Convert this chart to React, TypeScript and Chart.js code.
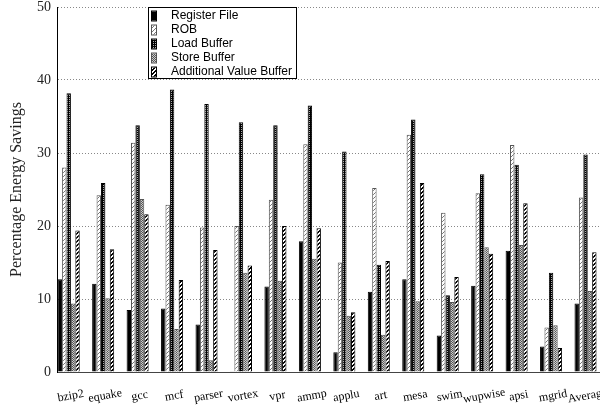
import React, { useEffect, useRef } from "react";
import { Chart, registerables } from "chart.js";

Chart.register(...registerables);

const categories = ["bzip2", "equake", "gcc", "mcf", "parser", "vortex", "vpr", "ammp", "applu", "art", "mesa", "swim", "wupwise", "apsi", "mgrid", "Average"];
const seriesNames = ["Register File", "ROB", "Load Buffer", "Store Buffer", "Additional Value Buffer"];
const registerFile = [12.7, 12.1, 8.5, 8.7, 6.5, 0.1, 11.7, 17.9, 2.7, 11.0, 12.7, 5.0, 11.8, 16.6, 3.5, 9.4];
const rob = [28.0, 24.2, 31.4, 22.9, 19.8, 20.0, 23.6, 31.2, 15.0, 25.2, 32.5, 21.8, 24.5, 31.1, 6.1, 23.9];
const loadBuffer = [38.2, 25.9, 33.8, 38.7, 36.7, 34.2, 33.8, 36.5, 30.2, 14.7, 34.6, 10.5, 27.1, 28.4, 13.6, 29.8];
const storeBuffer = [9.4, 10.1, 23.7, 5.9, 1.6, 13.6, 12.5, 15.5, 7.7, 5.1, 9.7, 9.6, 17.1, 17.4, 6.4, 11.1];
const addValueBuffer = [19.4, 16.8, 21.6, 12.6, 16.7, 14.6, 20.0, 19.7, 8.2, 15.2, 25.9, 13.0, 16.2, 23.1, 3.3, 16.4];
const yTicks = [0, 10, 20, 30, 40, 50];

function makePattern(ctx: CanvasRenderingContext2D, w: number, h: number, draw: (g: CanvasRenderingContext2D) => void) {
  const c = document.createElement("canvas");
  c.width = w;
  c.height = h;
  const g = c.getContext("2d")!;
  draw(g);
  return ctx.createPattern(c, "repeat")!;
}

export default function App() {
  const ref = useRef<HTMLCanvasElement>(null);
  useEffect(() => {
    const canvas = ref.current!;
    const ctx = canvas.getContext("2d")!;
    const solid = "#000";
    const robPat = makePattern(ctx, 4, 4, (g) => {
      g.fillStyle = "#fff";
      g.fillRect(0, 0, 4, 4);
      g.fillStyle = "#777";
      for (let i = 0; i < 4; i++) g.fillRect(i, 3 - i, 1, 1);
    });
    const loadPat = makePattern(ctx, 2, 2, (g) => {
      g.fillStyle = "#000";
      g.fillRect(0, 0, 2, 2);
      g.fillStyle = "#aaa";
      g.fillRect(1, 1, 1, 1);
    });
    const storePat = makePattern(ctx, 2, 2, (g) => {
      g.fillStyle = "#ccc";
      g.fillRect(0, 0, 2, 2);
      g.fillStyle = "#555";
      g.fillRect(0, 0, 1, 1);
      g.fillRect(1, 1, 1, 1);
    });
    const avbPat = makePattern(ctx, 4, 4, (g) => {
      g.fillStyle = "#000";
      g.fillRect(0, 0, 4, 4);
      g.fillStyle = "#fff";
      for (let i = 0; i < 4; i++) {
        g.fillRect(i, 3 - i, 1, 1);
        g.fillRect((i + 1) % 4, 3 - i, 1, 1);
      }
    });
    const fills = [solid, robPat, loadPat, storePat, avbPat];
    const borders = ["#000", "#555", "#000", "#555", "#000"];
    const values = [registerFile, rob, loadBuffer, storeBuffer, addValueBuffer];

    const labelsPlugin = {
      id: "customLabels",
      afterDraw(chart: any) {
        const c = chart.ctx as CanvasRenderingContext2D;
        const xs = chart.scales.x;
        c.save();
        c.font = "12px 'Liberation Serif', serif";
        c.fillStyle = "#000";
        c.textAlign = "center";
        c.textBaseline = "middle";
        categories.forEach((name, i) => {
          const x = xs.getPixelForValue(i) + 2;
          c.save();
          c.translate(x, 396);
          c.rotate((-10 * Math.PI) / 180);
          c.fillText(name, 0, 0);
          c.restore();
        });
        // legend
        const top = Math.round(chart.chartArea.top);
        const bx = 148.5, by = top + 0.5, bw = 148, bh = 71;
        c.fillStyle = "#fff";
        c.fillRect(bx, by, bw, bh);
        c.strokeStyle = "#000";
        c.lineWidth = 1;
        c.strokeRect(bx, by, bw, bh);
        c.font = "12px 'Liberation Sans', sans-serif";
        c.textAlign = "left";
        seriesNames.forEach((n, k) => {
          const cy = top + 9 + k * 14;
          c.fillStyle = fills[k] as any;
          c.fillRect(152, cy - 4.5, 4, 9);
          c.strokeStyle = borders[k];
          c.strokeRect(151.5, cy - 5, 5, 10);
          c.fillStyle = "#000";
          c.fillText(n, 171, cy);
        });
        c.restore();
      },
    };

    const chart = new Chart(ctx, {
      type: "bar",
      data: {
        datasets: seriesNames.map((name, k) => ({
          label: name,
          data: values[k].map((v, i) => ({ x: i, y: v })),
          backgroundColor: fills[k] as any,
          borderColor: borders[k],
          borderWidth: 1,
          categoryPercentage: 0.64,
          barPercentage: 1.0,
        })),
      },
      options: {
        animation: false,
        responsive: false,
        layout: { padding: { top: 7, right: 0, left: 0, bottom: 0 } },
        plugins: { legend: { display: false }, tooltip: { enabled: false } },
        scales: {
          x: {
            type: "linear",
            offset: false,
            min: -0.34,
            max: 15.42,
            ticks: { display: false },
            grid: { display: false, drawTicks: false },
            border: { color: "#444", width: 1 },
            afterFit(s: any) {
              s.height = 35;
              s.paddingLeft = 0;
              s.paddingRight = 0;
            },
          },
          y: {
            min: 0,
            max: 50,
            afterBuildTicks(s: any) {
              s.ticks = yTicks.map((v) => ({ value: v }));
            },
            ticks: {
              padding: 6,
              color: "#222",
              font: { family: "'Liberation Serif', serif", size: 14 },
            },
            grid: { color: "#888", lineWidth: 1, drawTicks: false } as any,
            border: { color: "#000", width: 1, dash: [1, 2] } as any,
            title: {
              display: true,
              text: "Percentage Energy Savings",
              color: "#222",
              font: { family: "'Liberation Serif', serif", size: 16 },
              padding: { top: 7, bottom: 0 },
            },
            afterFit(s: any) {
              s.width = 57;
              s.paddingTop = 0;
              s.paddingBottom = 0;
            },
          },
        },
      },
      plugins: [labelsPlugin],
    });
    return () => chart.destroy();
  }, []);
  return (
    <div style={{ position: "absolute", left: 0, top: 0, width: 600, height: 407, overflow: "hidden", background: "#fff" }}>
      <canvas ref={ref} width={600} height={407} style={{ display: "block" }} />
    </div>
  );
}
